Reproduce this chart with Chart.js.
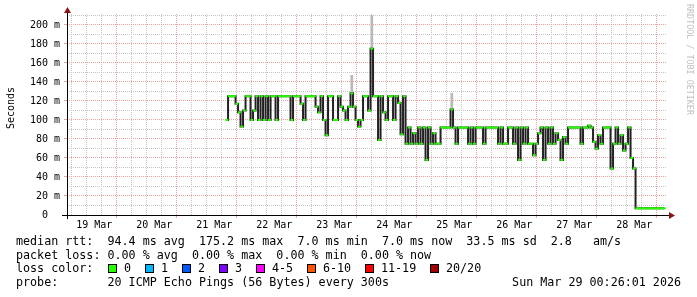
<!DOCTYPE html>
<html lang="en">
<head>
<meta charset="UTF-8">
<title>Smokeping median rtt</title>
<script src="https://cdn.jsdelivr.net/npm/chart.js"></script>
<style>
  html, body { margin: 0; padding: 0; background: #fff; }
  canvas { display: block; }
</style>
</head>
<body>
<canvas id="rttChart" width="697" height="297"></canvas>
<script>
// hours are counted from 19 Mar 00:00, one median sample per hour
const firstSampleHour = 65;
const medianMs = [
  100, 125, 125, 125, 117, 108, 93, 110, 125, 125,
  100, 110, 125, 100, 125, 100, 125, 100, 125, 125,
  100, 125, 125, 125, 125, 125, 100, 125, 125, 125,
  117, 100, 125, 125, 125, 125, 114, 108, 125, 100,
  84, 125, 125, 100, 100, 125, 114, 110, 100, 114,
  128, 114, 100, 93, 100, 125, 125, 110, 175, 125,
  125, 79, 125, 108, 100, 125, 125, 100, 125, 118,
  85, 125, 75, 92, 75, 86, 75, 92, 75, 92,
  58, 92, 75, 86, 75, 75, 92, 92, 92, 92,
  111, 92, 75, 92, 92, 92, 92, 75, 92, 75,
  92, 92, 92, 75, 92, 92, 92, 92, 92, 75,
  92, 75, 75, 92, 92, 75, 92, 58, 92, 75,
  92, 75, 75, 63, 75, 86, 92, 58, 92, 75,
  92, 75, 86, 79, 58, 82, 75, 92, 92, 92,
  92, 92, 75, 92, 92, 94, 92, 77, 70, 84,
  75, 92, 92, 92, 49, 75, 92, 75, 84, 68,
  75, 92, 60, 49, 7, 7, 7, 7, 7, 7,
  7, 7, 7, 7, 7, 7
];

// light smoke whiskers above the median
const smokeHours = [115, 123, 155];
const smokeFrom = [128, 175, 111];
const smokeTo = [147, 210, 128];

const dayLabels = ['19 Mar', '20 Mar', '21 Mar', '22 Mar', '23 Mar',
                   '24 Mar', '25 Mar', '26 Mar', '27 Mar', '28 Mar'];
const yLabelValues = [0, 20, 40, 60, 80, 100, 120, 140, 160, 180, 200];

const statsLines = [
  'median rtt:  94.4 ms avg  175.2 ms max  7.0 ms min  7.0 ms now  33.5 ms sd  2.8   am/s',
  'packet loss: 0.00 % avg  0.00 % max  0.00 % min  0.00 % now'
];
const lossLabels = ['0', '1', '2', '3', '4-5', '6-10', '11-19', '20/20'];
const lossColors = ['#26ff00', '#00b8ff', '#0059ff', '#7e00ff', '#ff00ff', '#ff5500', '#ff0000', '#a10000'];
const probeText = '20 ICMP Echo Pings (56 Bytes) every 300s';
const stampText = 'Sun Mar 29 00:26:01 2026';

const minorGrid = '#c6c6c6';
const majorGrid = '#eda0a0';
const mono = '"DejaVu Sans Mono", monospace';

const medianPoints = medianMs.map((v, i) => ({ x: firstSampleHour + i, y: v }));
const smokeBars = smokeHours.map((h, i) => ({ x: h, y: [smokeFrom[i], smokeTo[i]] }));

const rrdFrame = {
  id: 'rrdFrame',
  beforeDraw(chart) {
    const c = chart.ctx;
    c.save();
    c.fillStyle = '#fff';
    c.fillRect(0, 0, chart.width, chart.height);
    c.restore();
  },
  afterDraw(chart) {
    const c = chart.ctx;
    const a = chart.chartArea;
    c.save();

    // axes
    c.strokeStyle = '#000';
    c.lineWidth = 1;
    c.beginPath();
    c.moveTo(a.left - 5, a.bottom + 0.5);
    c.lineTo(a.right + 3, a.bottom + 0.5);
    c.moveTo(a.left + 0.5, a.bottom + 4);
    c.lineTo(a.left + 0.5, a.top - 4);
    c.stroke();

    // arrow heads
    c.fillStyle = '#8b1414';
    c.beginPath();
    c.moveTo(a.left - 3, a.top - 1);
    c.lineTo(a.left + 4, a.top - 1);
    c.lineTo(a.left + 0.5, a.top - 7);
    c.closePath();
    c.fill();
    c.beginPath();
    c.moveTo(a.right + 2, a.bottom - 3);
    c.lineTo(a.right + 2, a.bottom + 4);
    c.lineTo(a.right + 8, a.bottom + 0.5);
    c.closePath();
    c.fill();

    // y title
    c.fillStyle = '#000';
    c.font = '10px ' + mono;
    c.textAlign = 'center';
    c.textBaseline = 'middle';
    c.save();
    c.translate(11, 108);
    c.rotate(-Math.PI / 2);
    c.fillText('Seconds', 0, 0);
    c.restore();

    // watermark
    c.save();
    c.fillStyle = '#c0c0c0';
    c.font = '8.4px ' + mono;
    c.textAlign = 'left';
    c.translate(689, 4);
    c.rotate(Math.PI / 2);
    c.fillText('RRDTOOL / TOBI OETIKER', 0, 0);
    c.restore();

    // legend block
    c.font = '11.7px ' + mono;
    c.textAlign = 'left';
    c.textBaseline = 'alphabetic';
    c.fillStyle = '#000';
    c.fillText(statsLines[0], 16, 245);
    c.fillText(statsLines[1], 16, 258.7);
    c.fillText('loss color:', 16, 272.4);
    c.fillText('probe:', 16, 286);
    c.fillText(probeText, 107.5, 286);
    c.textAlign = 'right';
    c.fillText(stampText, 681, 286);
    c.textAlign = 'left';

    let bx = 108;
    lossLabels.forEach((label, i) => {
      c.fillStyle = lossColors[i];
      c.fillRect(bx, 264, 9, 9);
      c.strokeStyle = '#000';
      c.strokeRect(bx + 0.5, 264.5, 8, 8);
      c.fillStyle = '#000';
      const tx = bx + 16;
      c.fillText(label, tx, 272.4);
      bx = Math.round(tx + c.measureText(label).width + 13.8);
    });

    c.restore();
  }
};

new Chart(document.getElementById('rttChart'), {
  type: 'line',
  data: {
    datasets: [
      {
        label: 'median',
        data: medianPoints,
        showLine: false,
        pointStyle: 'line',
        pointRadius: 1.5,
        pointHoverRadius: 1.5,
        pointBorderWidth: 2,
        pointBorderColor: '#26ff00',
        pointBackgroundColor: '#26ff00',
        order: 0
      },
      {
        label: 'median steps',
        data: medianPoints,
        stepped: 'middle',
        borderColor: '#222',
        borderWidth: 2,
        pointRadius: 0,
        fill: false,
        order: 1
      },
      {
        type: 'bar',
        label: 'smoke',
        data: smokeBars,
        backgroundColor: '#b8b8b8',
        barThickness: 2,
        grouped: false,
        order: 2
      }
    ]
  },
  options: {
    responsive: false,
    animation: false,
    devicePixelRatio: 1,
    layout: { padding: { top: 14, right: 30, bottom: 62, left: 0 } },
    plugins: {
      legend: { display: false },
      tooltip: { enabled: false }
    },
    scales: {
      x: {
        type: 'linear',
        min: 1.08,
        max: 241.08,
        offset: false,
        afterBuildTicks: s => {
          s.ticks = [];
          for (let h = 6; h <= 240; h += 6) s.ticks.push({ value: h });
        },
        afterFit: s => { s.height = 20; },
        ticks: {
          autoSkip: false,
          maxRotation: 0,
          padding: 1,
          color: '#000',
          font: { family: mono, size: 10 },
          callback: v => (v % 24 === 12 ? dayLabels[(v - 12) / 24] : '')
        },
        grid: {
          color: ctx => (ctx.tick && ctx.tick.value % 24 === 0 ? majorGrid : minorGrid),
          tickColor: ctx => (ctx.tick && ctx.tick.value % 24 === 0 ? majorGrid : 'rgba(0,0,0,0)'),
          tickLength: 3,
          lineWidth: 1
        },
        border: { display: false, dash: [1, 1] }
      },
      y: {
        type: 'linear',
        min: 0,
        max: 211.5,
        afterBuildTicks: s => {
          s.ticks = [];
          for (let v = 0; v <= 210; v += 10) s.ticks.push({ value: v });
        },
        afterFit: s => { s.width = 67; },
        ticks: {
          autoSkip: false,
          padding: 4,
          color: '#000',
          font: { family: mono, size: 10 },
          callback: v => (v === 0 ? '0  ' : (yLabelValues.includes(v) ? v + ' m' : ''))
        },
        grid: {
          color: ctx => (ctx.tick && ctx.tick.value % 20 === 0 ? majorGrid : minorGrid),
          tickColor: ctx => (ctx.tick && ctx.tick.value % 20 === 0 ? majorGrid : 'rgba(0,0,0,0)'),
          tickLength: 3,
          lineWidth: 1
        },
        border: { display: false, dash: [1, 1] }
      }
    }
  },
  plugins: [rrdFrame]
});
</script>
</body>
</html>
